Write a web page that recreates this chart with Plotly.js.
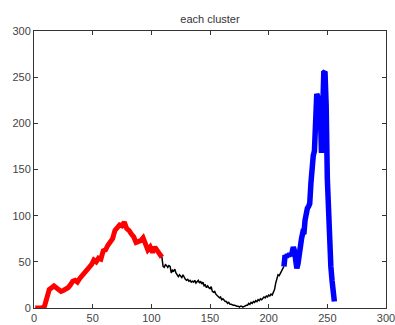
<!DOCTYPE html>
<html>
<head>
<meta charset="utf-8">
<script src="https://cdn.plot.ly/plotly-3.0.1.min.js"></script>
<style>html,body{margin:0;padding:0;background:#fff;}#chart{width:395px;height:325px;}</style>
</head>
<body>
<div id="chart"></div>
<script>
// Cluster 1 (red)
const redX = [1,3,5,7,9,11,13,15,17,19,21,23,25,27,29,31,33,35,37,39,41,43,45,47,49,51,53,55,57,59,61,63,65,67,69,71,73,75,77,79,81,83,85,87,89,91,93,95,97,99,101,103,105,107,109];
const redY = [0,0,0,0,2,12,20,22,24,22,19,18,19,20,22,25,29,30,28,32,35,38,41,43,47,52,50,54,53,62,63,68,72,75,84,87,90,89,93,86,84,80,77,71,72,73,76,67,63,66,60,66,63,59,55];
// Cluster 2 (black)
const blackX = [109,110,111,112,113,114,115,116,117,118,119,120,121,122,123,124,125,126,127,128,129,130,131,132,133,134,135,136,137,138,139,140,141,142,143,144,145,146,147,148,149,150,151,152,153,154,155,156,157,158,159,160,161,162,163,164,165,166,167,168,169,170,171,172,173,174,175,176,177,178,179,180,181,182,183,184,185,186,187,188,189,190,191,192,193,194,195,196,197,198,199,200,201,202,203,204,205,206,207,208,209,210,211,212,213];
const blackY = [55,45,44,47,46,44,46,45,38,41,40,42,38,36,34,36,35,33,36,33,31,30,31,29,30,28,29,28,30,27,29,30,27,29,26,28,24,25,22,24,22,21,23,18,17,18,15,14,13,11,12,9,10,8,7,7,5,6,4,4,3,3,3,2,2,2,1,2,2,1,2,2,3,3,5,4,6,5,7,6,8,7,9,8,10,9,11,12,11,13,12,14,13,15,14,17,20,27,33,36,35,38,40,42,45];
// Cluster 3 (blue)
const blueX = [213,214,215,216,217,218,219,220,221,222,223,224,225,226,227,228,229,230,231,232,233,234,235,236,237,238,239,240,241,242,243,244,245,246,247,248,249,250,251,252,253,254,255,256];
const blueY = [45,57,55,58,56,59,57,60,66,62,55,43,48,60,66,75,81,80,95,104,108,110,113,135,160,165,170,200,232,228,195,215,168,225,255,256,220,140,100,70,45,30,18,7];

const xTicks = [0,50,100,150,200,250,300];
const yTicks = [0,50,100,150,200,250,300];

const traces = [
  {x: redX, y: redY, mode: 'lines', line: {color: '#ff0000', width: 5}, hoverinfo: 'skip'},
  {x: blackX, y: blackY, mode: 'lines', line: {color: '#000000', width: 1.5}, hoverinfo: 'skip'},
  {x: blueX, y: blueY, mode: 'lines', line: {color: '#0000ff', width: 5.5}, hoverinfo: 'skip'}
];

const axisCommon = {
  showgrid: false, zeroline: false, showline: true, linecolor: '#333', linewidth: 1,
  mirror: 'allticks', ticks: 'inside', ticklen: 4, tickcolor: '#333', tickwidth: 1,
  ticklabeloverflow: 'allow', automargin: false,
  tickfont: {family: 'Liberation Sans, Arial, sans-serif', size: 11, color: '#444'}
};

const layout = {
  width: 395, height: 325,
  margin: {l: 34, r: 9, t: 31, b: 17, pad: 0},
  paper_bgcolor: '#ffffff', plot_bgcolor: '#ffffff',
  showlegend: false,
  title: {text: 'each cluster', font: {family: 'Liberation Sans, Arial, sans-serif', size: 11, color: '#333'}, x: 0.5, xref: 'paper', y: 0.94, yref: 'container', yanchor: 'middle'},
  xaxis: Object.assign({}, axisCommon, {range: [0, 300], tickvals: xTicks, ticktext: xTicks.map(String)}),
  yaxis: Object.assign({}, axisCommon, {range: [0, 300], tickvals: yTicks, ticktext: yTicks.map(String)})
};

Plotly.newPlot('chart', traces, layout, {staticPlot: true, displayModeBar: false});
</script>
</body>
</html>
